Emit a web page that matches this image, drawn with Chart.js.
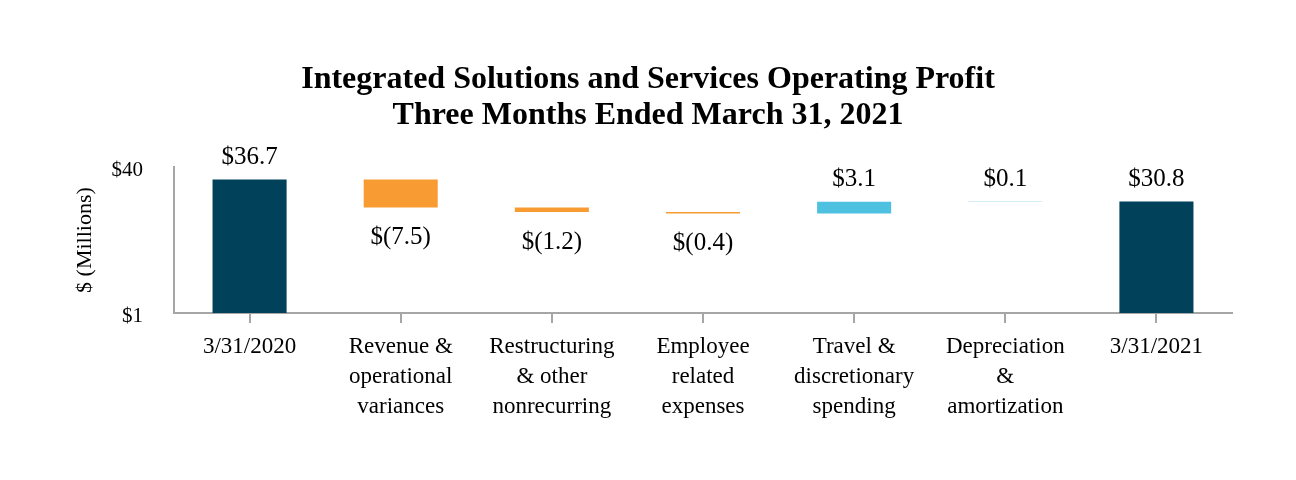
<!DOCTYPE html>
<html>
<head>
<meta charset="utf-8">
<script src="https://cdn.jsdelivr.net/npm/chart.js@4/dist/chart.umd.min.js"></script>
<style>
  html, body { margin: 0; padding: 0; background: #fff; }
  #wrap { width: 1296px; height: 480px; }
</style>
</head>
<body>
<div id="wrap"><canvas id="c" width="1296" height="480"></canvas></div>
<script>
const categories = [
  ['3/31/2020'],
  ['Revenue &', 'operational', 'variances'],
  ['Restructuring', '& other', 'nonrecurring'],
  ['Employee', 'related', 'expenses'],
  ['Travel &', 'discretionary', 'spending'],
  ['Depreciation', '&', 'amortization'],
  ['3/31/2021']
];
const startTotal = 36.7;
const changes = [-7.5, -1.2, -0.4, 3.1, 0.1];
const endTotal = 30.8;
const yTicks = [1, 40];

const COLOR_TOTAL = '#01415A';
const COLOR_NEG = '#F89B32';
const COLOR_POS = '#4EC0E0';
const SERIF = "'Liberation Serif', 'Times New Roman', serif";

// Build floating bars from the data arrays
const barData = [];
const barColors = [];
const barLabels = [];
const barKinds = [];
barData.push([0, startTotal]); barColors.push(COLOR_TOTAL);
barLabels.push('$' + startTotal.toFixed(1)); barKinds.push('total');
let run = startTotal;
changes.forEach(v => {
  const next = Math.round((run + v) * 10) / 10;
  barData.push([run, next]);
  barColors.push(v < 0 ? COLOR_NEG : COLOR_POS);
  barLabels.push(v < 0 ? '$(' + Math.abs(v).toFixed(1) + ')' : '$' + v.toFixed(1));
  barKinds.push(v < 0 ? 'neg' : 'pos');
  run = next;
});
barData.push([0, endTotal]); barColors.push(COLOR_TOTAL);
barLabels.push('$' + endTotal.toFixed(1)); barKinds.push('total');

const valueLabels = {
  id: 'valueLabels',
  afterDatasetsDraw(chart) {
    const ctx = chart.ctx;
    const meta = chart.getDatasetMeta(0);
    ctx.save();
    ctx.font = '25px ' + SERIF;
    ctx.fillStyle = '#000';
    ctx.textAlign = 'center';
    ctx.textBaseline = 'middle';
    meta.data.forEach((el, i) => {
      const top = Math.min(el.y, el.base);
      const bottom = Math.max(el.y, el.base);
      if (barKinds[i] === 'neg') {
        ctx.fillText(barLabels[i], el.x, bottom + 30);
      } else {
        ctx.fillText(barLabels[i], el.x, top - 22);
      }
    });
    ctx.restore();
  }
};

new Chart(document.getElementById('c'), {
  type: 'bar',
  data: {
    labels: categories,
    datasets: [{
      data: barData,
      backgroundColor: barColors,
      borderWidth: 0,
      barPercentage: 1,
      categoryPercentage: 0.49
    }]
  },
  options: {
    responsive: false,
    animation: false,
    devicePixelRatio: 1,
    layout: { padding: { top: 62, left: 32, right: 32, bottom: 58 } },
    plugins: {
      legend: { display: false },
      tooltip: { enabled: false },
      title: {
        display: true,
        text: ['Integrated Solutions and Services Operating Profit', 'Three Months Ended March 31, 2021'],
        color: '#000',
        font: { family: SERIF, size: 32, weight: 'bold', lineHeight: 1.11 },
        padding: { top: 0, bottom: 34 }
      }
    },
    scales: {
      x: {
        grid: {
          display: true,
          drawOnChartArea: false,
          drawTicks: true,
          tickLength: 10,
          offset: false,
          color: '#A6A6A6',
          lineWidth: 2
        },
        border: { display: true, color: '#A6A6A6', width: 2 },
        ticks: {
          color: '#000',
          padding: 9,
          maxRotation: 0,
          autoSkip: false,
          font: { family: SERIF, size: 23, lineHeight: 1.3 }
        },
        afterFit(scale) { scale.height = 109; }
      },
      y: {
        min: 1,
        max: 40,
        grid: { display: false, drawTicks: false },
        border: { display: true, color: '#A6A6A6', width: 2 },
        afterBuildTicks(scale) { scale.ticks = yTicks.map(v => ({ value: v })); },
        ticks: {
          color: '#000',
          padding: 31,
          labelOffset: 3,
          font: { family: SERIF, size: 21 },
          callback: (v) => '$' + v
        },
        title: {
          display: true,
          text: '$ (Millions)',
          color: '#000',
          font: { family: SERIF, size: 22, lineHeight: 1.2 },
          padding: { top: 40, bottom: 0 }
        },
        afterFit(scale) { scale.width = 142; }
      },
      yRight: {
        type: 'linear',
        position: 'right',
        display: true,
        grid: { display: false, drawTicks: false },
        border: { display: false },
        ticks: { display: false },
        afterFit(scale) { scale.width = 32; }
      }
    }
  },
  plugins: [valueLabels]
});
</script>
</body>
</html>
